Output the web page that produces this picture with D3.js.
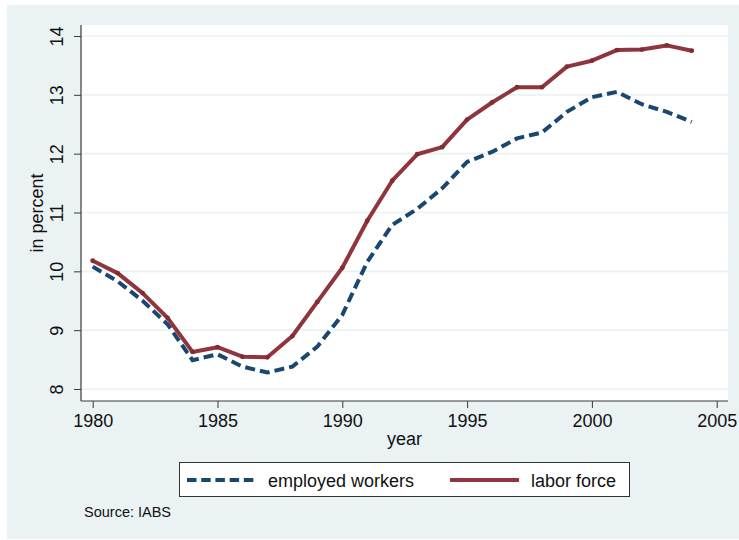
<!DOCTYPE html>
<html>
<head>
<meta charset="utf-8">
<script src="https://cdn.jsdelivr.net/npm/d3@7"></script>
<style>
  html, body { margin: 0; padding: 0; background: #ffffff; }
  svg { display: block; font-family: "Liberation Sans", Arial, Helvetica, sans-serif; }
</style>
</head>
<body>
<svg id="chart" width="739" height="540"></svg>
<script>
const years = [1980,1981,1982,1983,1984,1985,1986,1987,1988,1989,1990,1991,1992,1993,1994,1995,1996,1997,1998,1999,2000,2001,2002,2003,2004];
const employedWorkers = [10.08,9.83,9.50,9.10,8.49,8.59,8.38,8.28,8.38,8.72,9.26,10.16,10.79,11.06,11.41,11.86,12.03,12.26,12.36,12.71,12.96,13.05,12.84,12.71,12.54];
const laborForce = [10.18,9.97,9.63,9.21,8.63,8.71,8.55,8.54,8.90,9.48,10.06,10.86,11.54,11.99,12.11,12.58,12.87,13.13,13.13,13.48,13.58,13.76,13.77,13.84,13.75];
const xTicks = [1980,1985,1990,1995,2000,2005];
const yTicks = [8,9,10,11,12,13,14];
const seriesNames = ["employed workers", "labor force"];
const xTitle = "year";
const yTitle = "in percent";
const note = "Source: IABS";

const navy = "#1a476f";
const maroon = "#90353b";
const panelBg = "#eaf2f3";
const gridCol = "#eaf2f3";
const axisCol = "#3a3a3a";

const svg = d3.select("#chart");

// outer panel
svg.append("rect").attr("x", 7).attr("y", 5).attr("width", 732).attr("height", 534).attr("fill", panelBg);

// plot region
const plot = {left: 81, right: 728, top: 25, bottom: 401};
svg.append("rect").attr("x", plot.left).attr("y", plot.top)
  .attr("width", plot.right - plot.left).attr("height", plot.bottom - plot.top).attr("fill", "#ffffff");

const x = d3.scaleLinear().domain([1980, 2005]).range([92.7, 716.7]);
const y = d3.scaleLinear().domain([8, 14]).range([389, 36]);

// gridlines
svg.append("g").selectAll("line").data(yTicks).join("line")
  .attr("x1", plot.left).attr("x2", plot.right)
  .attr("y1", d => y(d)).attr("y2", d => y(d))
  .attr("stroke", gridCol).attr("stroke-width", 1.6);

// axes
const yAxis = svg.append("g").attr("transform", `translate(${plot.left},0)`)
  .call(d3.axisLeft(y).tickValues(yTicks).tickSize(7).tickPadding(0).tickFormat(d3.format("d")));
yAxis.select(".domain").remove();
yAxis.selectAll(".tick line").attr("stroke", axisCol).attr("stroke-width", 1);
yAxis.selectAll(".tick text")
  .attr("x", null).attr("dy", null)
  .attr("transform", "translate(-18,0) rotate(-90)")
  .attr("text-anchor", "middle")
  .attr("font-size", 18).attr("fill", "#111");

const xAxis = svg.append("g").attr("transform", `translate(0,${plot.bottom})`)
  .call(d3.axisBottom(x).tickValues(xTicks).tickSize(7).tickPadding(0).tickFormat(d3.format("d")));
xAxis.select(".domain").remove();
xAxis.selectAll(".tick line").attr("stroke", axisCol).attr("stroke-width", 1);
xAxis.selectAll(".tick text")
  .attr("dy", null).attr("y", 26)
  .attr("font-size", 18).attr("fill", "#111");

// axis lines
svg.append("line").attr("x1", plot.left).attr("x2", plot.left).attr("y1", plot.top).attr("y2", plot.bottom)
  .attr("stroke", axisCol).attr("stroke-width", 1.2);
svg.append("line").attr("x1", plot.left).attr("x2", plot.right).attr("y1", plot.bottom).attr("y2", plot.bottom)
  .attr("stroke", axisCol).attr("stroke-width", 1.2);

// axis titles
svg.append("text").attr("transform", `translate(43,${(plot.top + plot.bottom) / 2}) rotate(-90)`)
  .attr("text-anchor", "middle").attr("font-size", 18).attr("fill", "#111").text(yTitle);
svg.append("text").attr("x", (plot.left + plot.right) / 2).attr("y", 445)
  .attr("text-anchor", "middle").attr("font-size", 18).attr("fill", "#111").text(xTitle);

// lines
const line = d3.line().x((d, i) => x(years[i])).y(d => y(d));
svg.append("path").datum(employedWorkers).attr("d", line)
  .attr("fill", "none").attr("stroke", navy).attr("stroke-width", 4)
  .attr("stroke-dasharray", "10,5").attr("stroke-linejoin", "miter");
svg.append("path").datum(laborForce).attr("d", line)
  .attr("fill", "none").attr("stroke", maroon).attr("stroke-width", 4)
  .attr("stroke-linejoin", "round");
svg.append("g").selectAll("circle").data(laborForce).join("circle")
  .attr("cx", (d, i) => x(years[i])).attr("cy", d => y(d)).attr("r", 2.4)
  .attr("fill", "#7f2c32");

// legend
const leg = svg.append("g");
leg.append("rect").attr("x", 179.5).attr("y", 462.5).attr("width", 450).attr("height", 34)
  .attr("fill", "#ffffff").attr("stroke", "#333").attr("stroke-width", 1);
leg.append("line").attr("x1", 187).attr("x2", 258).attr("y1", 480).attr("y2", 480)
  .attr("stroke", navy).attr("stroke-width", 4).attr("stroke-dasharray", "9.5,4.7");
leg.append("text").attr("x", 268).attr("y", 486.5).attr("font-size", 18).attr("fill", "#111").text(seriesNames[0]);
leg.append("line").attr("x1", 450).attr("x2", 519).attr("y1", 480).attr("y2", 480)
  .attr("stroke", maroon).attr("stroke-width", 4);
leg.append("text").attr("x", 531).attr("y", 486.5).attr("font-size", 18).attr("fill", "#111").text(seriesNames[1]);

// note
svg.append("text").attr("x", 84).attr("y", 517).attr("font-size", 14.5).attr("fill", "#111").text(note);
</script>
</body>
</html>
